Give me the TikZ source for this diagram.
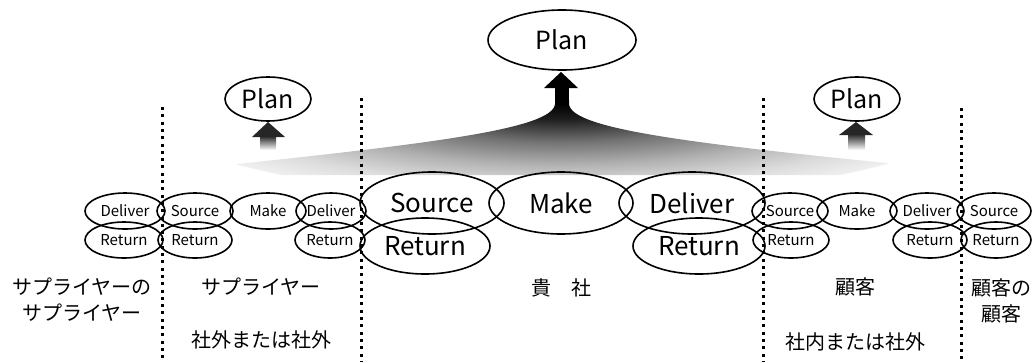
\documentclass[tikz,border=0pt]{standalone}
\usepackage{fontspec}
\setmainfont{Noto Sans CJK JP}
\usetikzlibrary{shapes.geometric}
\pgfdeclareradialshading{fanshade}{\pgfpoint{0bp}{0bp}}{color(0bp)=(black); color(4bp)=(black!88); color(10bp)=(black!55); color(16bp)=(black!30); color(21bp)=(black!14); color(25bp)=(black!6); color(50bp)=(black!6)}
\begin{document}
\begin{tikzpicture}[x=1bp,y=-1bp,
 ell/.style={draw, ellipse, line width=1.6bp, inner sep=0pt},
 sm/.style={ell, minimum height=36bp, font=\fontsize{15bp}{17bp}\selectfont},
 big/.style={ell, font=\fontsize{26bp}{30bp}\selectfont},
 plan/.style={ell, font=\fontsize{25bp}{29bp}\selectfont},
 sepline/.style={line width=3bp, dash pattern=on 3bp off 4.3bp},
 jp/.style={font=\fontsize{20bp}{26bp}\selectfont, align=center, inner sep=0pt}]
\useasboundingbox (0,0) rectangle (1036,362);
% central fan
\begin{scope}
\clip (555,100) -- (555,104) .. controls (553,130) and (420,145) .. (180,170) -- (180,175) -- (958,175) -- (958,170) .. controls (700,145) and (571,130) .. (569,104) -- (569,100) -- cycle;
\shade[shading=fanshade] (561,104) ellipse [x radius=420, y radius=95];
\end{scope}
\fill[black] (555,86) rectangle (569,105);
\fill[black] (544,88) -- (561,72) -- (578,88) -- cycle;
% small arrows
\shade[top color=black!85, bottom color=white] (260,136) rectangle (276,150);
\fill[black!85] (252,137) -- (268,122) -- (285,137) -- cycle;
\shade[top color=black!85, bottom color=white] (848,134) rectangle (865,150);
\fill[black!85] (839,135) -- (856,122) -- (873,135) -- cycle;
% dotted separators
\coordinate (v1t) at (162,107); \coordinate (v1b) at (162,362);
\coordinate (v2t) at (361,98);  \coordinate (v2b) at (361,362);
\coordinate (v3t) at (763,98);  \coordinate (v3b) at (763,362);
\coordinate (v4t) at (961,108); \coordinate (v4b) at (961,362);
\draw[sepline] (v1t) -- (v1b);
\draw[sepline] (v2t) -- (v2b);
\draw[sepline] (v3t) -- (v3b);
\draw[sepline] (v4t) -- (v4b);
% plans
\node[plan, minimum width=148bp, minimum height=60bp] (planC) at (562,40) {Plan};
\node[plan, minimum width=86bp, minimum height=44bp] (planL) at (268,99) {Plan};
\node[plan, minimum width=86bp, minimum height=44bp] (planR) at (857,99) {Plan};
% supplier's supplier
\node[sm, minimum width=80bp] (d0) at (125,211) {Deliver};
\node[sm, minimum width=78bp] (r0) at (124,240) {Return};
% supplier
\node[sm, minimum width=76bp] (s1) at (195,211) {Source};
\node[sm, minimum width=76bp] (m1) at (268,211) {Make};
\node[sm, minimum width=70bp] (d1) at (331,211) {Deliver};
\node[sm, minimum width=74bp] (r1) at (195,240) {Return};
\node[sm, minimum width=70bp] (r1b) at (330,240) {Return};
% company
\node[big, minimum width=144bp, minimum height=62bp] (sC) at (432,203) {Source};
\node[big, minimum width=144bp, minimum height=62bp] (mC) at (561,203) {Make};
\node[big, minimum width=146bp, minimum height=62bp] (dC) at (692,203) {Deliver};
\node[big, minimum width=130bp, minimum height=56bp] (rC) at (425,246) {Return};
\node[big, minimum width=132bp, minimum height=56bp] (rCb) at (699,246) {Return};
% customer
\node[sm, minimum width=76bp] (s2) at (790,211) {Source};
\node[sm, minimum width=80bp] (m2) at (857,211) {Make};
\node[sm, minimum width=74bp] (d2) at (927,211) {Deliver};
\node[sm, minimum width=76bp] (r2) at (791,240) {Return};
\node[sm, minimum width=74bp] (r2b) at (930,240) {Return};
% customer's customer
\node[sm, minimum width=74bp] (s3) at (994,211) {Source};
\node[sm, minimum width=70bp] (r3) at (996,240) {Return};
% labels
\node[jp] (t1) at (82,300) {サプライヤーの\\サプライヤー};
\node[jp] (t2) at (261,287) {サプライヤー};
\node[jp] (t3) at (261,340) {社外または社外};
\node[jp] (t4) at (561,288) {貴　社};
\node[jp] (t5) at (855,287) {顧客};
\node[jp] (t6) at (855,342) {社内または社外};
\node[jp] (t7) at (1001,301) {顧客の\\顧客};
\end{tikzpicture}
\end{document}
